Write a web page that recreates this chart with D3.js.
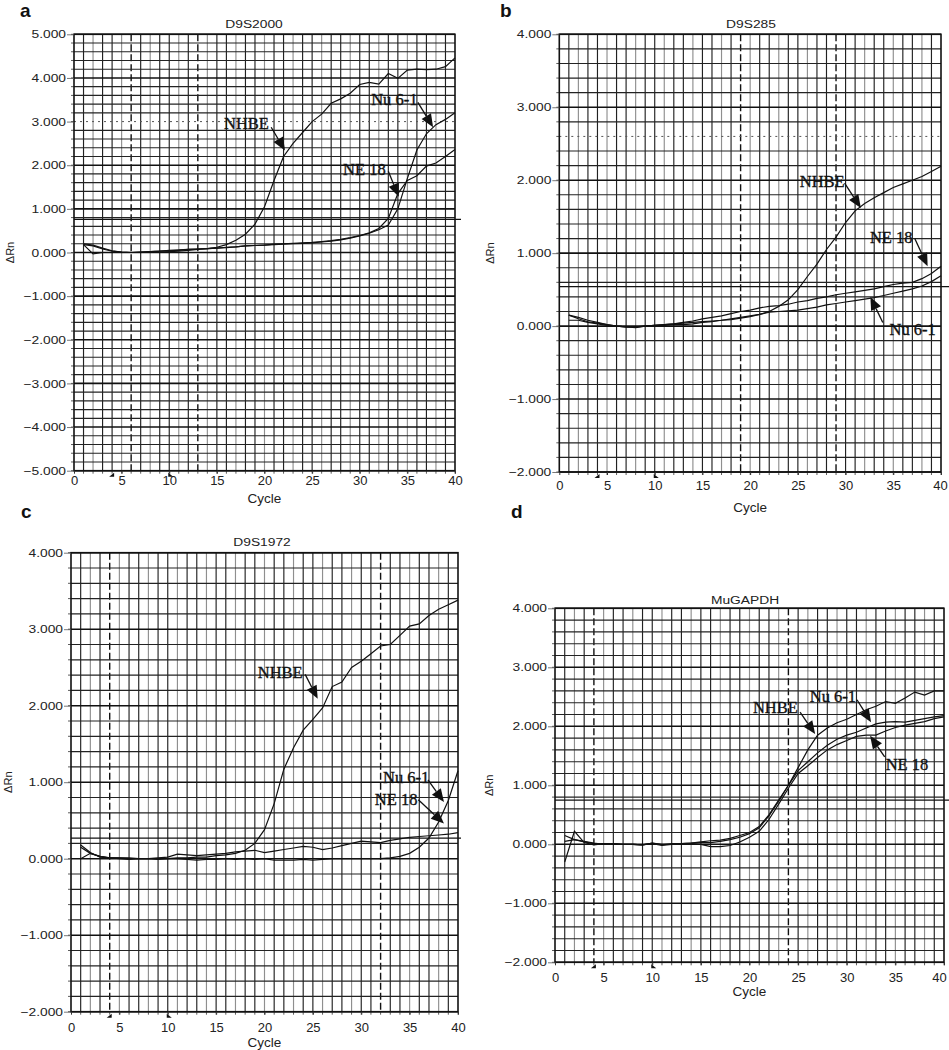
<!DOCTYPE html>
<html><head><meta charset="utf-8">
<script src="https://cdn.jsdelivr.net/npm/d3@7"></script>
<style>html,body{margin:0;padding:0;background:#fff}svg{display:block}</style>
</head><body>
<svg id="chart" width="949" height="1050"></svg>
<script>
// ---------------- DATA ----------------
const cycles = d3.range(1, 41);
const xTickValues = [0, 5, 10, 15, 20, 25, 30, 35, 40];
const titles = ["D9S2000", "D9S285", "D9S1972", "MuGAPDH"];
const panelLetters = ["a", "b", "c", "d"];
const yTicksA = [-5, -4, -3, -2, -1, 0, 1, 2, 3, 4, 5];
const yTicksBCD = [-2, -1, 0, 1, 2, 3, 4];
const thresholds = [0.76, 0.54, 0.27, 0.75];

// Panel a: D9S2000
const d9s2000_NHBE = [0.18,-0.03,0.0,0.0,0.0,0.0,0.0,0.0,0.01,0.02,0.03,0.05,0.07,0.09,0.12,0.18,0.28,0.42,0.65,1.05,1.65,2.2,2.5,2.75,3.0,3.17,3.42,3.52,3.65,3.85,3.9,3.86,4.1,3.99,4.18,4.2,4.19,4.2,4.26,4.46];
const d9s2000_Nu61 = [0.2,0.17,0.1,0.04,0.01,0.0,0.01,0.02,0.03,0.05,0.06,0.07,0.08,0.09,0.1,0.11,0.13,0.15,0.16,0.17,0.18,0.19,0.2,0.21,0.22,0.24,0.26,0.29,0.33,0.38,0.44,0.52,0.63,1.0,1.7,2.35,2.72,2.93,3.05,3.2];
const d9s2000_NE18 = [0.18,0.15,0.08,0.03,0.01,0.0,0.01,0.02,0.03,0.04,0.05,0.07,0.08,0.09,0.1,0.12,0.13,0.15,0.16,0.17,0.19,0.2,0.21,0.22,0.23,0.25,0.27,0.3,0.34,0.39,0.45,0.55,0.78,1.35,1.65,1.76,1.98,2.05,2.2,2.36];

// Panel b: D9S285
const d9s285_NHBE = [0.15,0.1,0.06,0.04,0.02,0.0,-0.01,-0.01,0.0,0.01,0.02,0.03,0.04,0.05,0.06,0.07,0.08,0.1,0.12,0.14,0.16,0.2,0.27,0.36,0.5,0.68,0.85,1.05,1.22,1.42,1.58,1.68,1.76,1.83,1.9,1.95,2.0,2.05,2.12,2.19];
const d9s285_NE18 = [0.15,0.12,0.08,0.05,0.02,0.0,-0.01,-0.02,0.0,0.01,0.02,0.03,0.05,0.07,0.1,0.12,0.14,0.17,0.2,0.22,0.25,0.27,0.28,0.3,0.33,0.35,0.38,0.4,0.43,0.45,0.47,0.49,0.51,0.54,0.57,0.59,0.6,0.65,0.72,0.82];
const d9s285_Nu61 = [0.08,0.08,0.05,0.03,0.01,0.0,-0.01,-0.01,0.0,0.01,0.01,0.02,0.02,0.03,0.05,0.06,0.08,0.09,0.11,0.13,0.16,0.19,0.2,0.21,0.22,0.24,0.26,0.29,0.31,0.33,0.35,0.37,0.39,0.42,0.45,0.48,0.51,0.55,0.61,0.69];

// Panel c: D9S1972
const d9s1972_NHBE = [0.15,0.07,0.03,0.01,0.01,0.0,0.0,0.0,0.0,0.0,0.01,0.01,0.02,0.02,0.04,0.05,0.07,0.11,0.2,0.38,0.72,1.17,1.45,1.68,1.82,1.97,2.25,2.31,2.5,2.58,2.68,2.78,2.8,2.92,3.04,3.07,3.18,3.26,3.32,3.38];
const d9s1972_NE18 = [0.18,0.08,0.02,0.01,0.0,-0.01,0.0,0.0,-0.01,0.0,0.0,-0.01,-0.02,-0.01,-0.01,0.0,-0.01,0.0,-0.01,0.0,-0.02,-0.02,-0.02,-0.01,-0.02,-0.01,0.0,0.0,0.0,0.0,0.0,0.0,0.01,0.03,0.07,0.15,0.27,0.48,0.76,1.15];
const d9s1972_Nu61 = [0.0,0.07,0.03,0.01,0.01,0.01,0.0,0.0,0.01,0.02,0.06,0.05,0.04,0.05,0.06,0.07,0.09,0.1,0.11,0.08,0.1,0.12,0.14,0.16,0.15,0.12,0.14,0.17,0.2,0.23,0.22,0.21,0.24,0.26,0.28,0.29,0.3,0.31,0.32,0.34];

// Panel d: MuGAPDH
const mugapdh_NHBE = [0.15,0.08,0.04,0.01,0.01,0.0,0.0,0.0,-0.01,0.02,0.0,0.0,0.01,0.02,0.04,0.06,0.07,0.1,0.15,0.2,0.3,0.5,0.75,1.0,1.3,1.6,1.85,1.97,2.06,2.12,2.2,2.28,2.34,2.42,2.39,2.48,2.58,2.53,2.6,2.6];
const mugapdh_Nu61 = [-0.3,0.22,0.03,-0.01,0.01,0.01,0.0,0.0,-0.01,0.02,-0.01,0.01,0.01,0.02,0.03,0.03,0.05,0.08,0.12,0.18,0.28,0.48,0.73,1.0,1.25,1.4,1.55,1.68,1.78,1.85,1.9,1.97,2.04,2.07,2.08,2.07,2.1,2.13,2.16,2.18];
const mugapdh_NE18 = [0.05,0.08,0.05,0.02,0.0,0.01,0.0,0.0,-0.01,0.01,-0.02,0.0,0.01,0.01,0.0,-0.04,-0.04,-0.02,0.04,0.12,0.22,0.42,0.68,0.95,1.2,1.33,1.47,1.6,1.69,1.76,1.83,1.85,1.85,1.92,1.98,2.02,2.05,2.08,2.13,2.16];

// Annotations (data units): label, text left-baseline, arrow start, arrow tip
const annotA = [
  {label:"NHBE",  tx:15.75, ty:2.84, fx:20.7, fy:2.87, px:22.15, py:2.34},
  {label:"Nu 6-1",tx:31.2,  ty:3.37, fx:36.1, fy:3.44, px:37.7,  py:2.87},
  {label:"NE 18", tx:28.25, ty:1.77, fx:33.0, fy:1.86, px:34.1,  py:1.28}];
const annotB = [
  {label:"NHBE",  tx:25.2,  ty:1.9,  fx:29.9, fy:1.96, px:31.6,  py:1.62},
  {label:"NE 18", tx:32.55, ty:1.14, fx:37.25,fy:1.2,  px:38.6,  py:0.82},
  {label:"Nu 6-1",tx:34.6,  ty:-0.12,fx:33.9, fy:0.05, px:32.6,  py:0.4}];
const annotC = [
  {label:"NHBE",  tx:19.3,  ty:2.36, fx:24.2, fy:2.41, px:25.5,  py:2.09},
  {label:"Nu 6-1",tx:32.25, ty:0.99, fx:36.9, fy:1.03, px:38.55, py:0.74},
  {label:"NE 18", tx:31.4,  ty:0.7,  fx:35.9, fy:0.77, px:38.55, py:0.46}];
const annotD = [
  {label:"NHBE",  tx:20.35, ty:2.23, fx:25.2, fy:2.24, px:26.75, py:1.87},
  {label:"Nu 6-1",tx:26.2,  ty:2.41, fx:31.05,fy:2.45, px:32.5,  py:2.07},
  {label:"NE 18", tx:34.0,  ty:1.26, fx:33.9, fy:1.48, px:32.4,  py:1.84}];

// ---------------- LAYOUT ----------------
const panels = [
  {title:titles[0], letter:panelLetters[0], series:[d9s2000_NHBE,d9s2000_Nu61,d9s2000_NE18], annot:annotA,
   yTicks:yTicksA, yDom:[-5,5], thr:thresholds[0], l:74, r:455, t:34.3, b:470.7,
   lx:20, ly:17, titleX:254, titleY:27.5, xOff:5.4, cycleY:503, rnX:14, thrEnd:461, emph:[6,13], dotted:[3.0], lastShift:0},
  {title:titles[1], letter:panelLetters[1], series:[d9s285_NHBE,d9s285_NE18,d9s285_Nu61], annot:annotB,
   yTicks:yTicksBCD, yDom:[-2,4], thr:thresholds[1], l:559.3, r:941, t:34.3, b:472,
   lx:500, ly:17, titleX:751, titleY:27.5, xOff:9, cycleY:512, rnX:494, thrEnd:949, emph:[19,29], dotted:[2.6], lastShift:-1},
  {title:titles[2], letter:panelLetters[2], series:[d9s1972_NHBE,d9s1972_NE18,d9s1972_Nu61], annot:annotC,
   yTicks:yTicksBCD, yDom:[-2,4], thr:thresholds[2], l:71, r:458, t:552.7, b:1011.7,
   lx:21, ly:518, titleX:262, titleY:546, xOff:11, cycleY:1047, rnX:12, thrEnd:461, emph:[4,32], dotted:[], lastShift:0},
  {title:titles[3], letter:panelLetters[3], series:[mugapdh_NHBE,mugapdh_Nu61,mugapdh_NE18], annot:annotD,
   yTicks:yTicksBCD, yDom:[-2,4], thr:thresholds[3], l:555, r:944, t:608.3, b:962.3,
   lx:511, ly:518, titleX:745, titleY:603.5, xOff:10.8, cycleY:996, rnX:493, thrEnd:949, emph:[4,24], dotted:[], lastShift:-5}
];

const svg = d3.select("#chart");
const SANS = "'Liberation Sans', Arial, sans-serif";
const SERIF = "'Liberation Serif', 'Times New Roman', serif";
const SX = 1.2; // horizontal stretch of the scanned sans labels

panels.forEach(p => {
  const x = d3.scaleLinear().domain([0, 40]).range([p.l, p.r]);
  const y = d3.scaleLinear().domain(p.yDom).range([p.b, p.t]);
  const g = svg.append("g");

  svg.append("text").attr("x", p.lx).attr("y", p.ly).text(p.letter)
    .attr("font-family", SANS).attr("font-weight", "bold").attr("font-size", 19).attr("fill", "#111");

  svg.append("text").attr("transform", `translate(${p.titleX},${p.titleY}) scale(${SX},1)`)
    .attr("text-anchor", "middle").attr("font-family", SANS).attr("font-size", 11.5).attr("fill", "#222").text(p.title);

  // vertical grid
  const grid = g.append("g");
  cycles.filter(c => c < 40).forEach(c => {
    const emph = p.emph.includes(c);
    grid.append("line").attr("x1", x(c)).attr("x2", x(c)).attr("y1", p.t).attr("y2", p.b)
      .attr("stroke", emph ? "#111" : (c % 3 === 2 ? "#8f8f8f" : "#222"))
      .attr("stroke-width", emph ? 1.4 : 1.15)
      .attr("stroke-dasharray", emph ? "7,3" : null);
  });
  // horizontal grid every 0.2
  const hVals = d3.range(Math.round((p.yDom[1] - p.yDom[0]) / 0.2) + 1).map(i => +(p.yDom[0] + i * 0.2).toFixed(2));
  hVals.forEach(v => {
    const isInt = Math.abs(v - Math.round(v)) < 1e-6;
    const dotted = p.dotted.some(d => Math.abs(d - v) < 1e-6);
    grid.append("line").attr("x1", p.l).attr("x2", p.r).attr("y1", y(v)).attr("y2", y(v))
      .attr("stroke", dotted ? "#555" : (isInt ? "#111" : "#222"))
      .attr("stroke-width", dotted ? 1 : (isInt ? 1.6 : 1.15))
      .attr("stroke-dasharray", dotted ? "2,4" : null);
    grid.append("line").attr("x1", p.l - 3).attr("x2", p.l).attr("y1", y(v)).attr("y2", y(v))
      .attr("stroke", "#333").attr("stroke-width", 0.8);
  });
  cycles.forEach(c => {
    grid.append("line").attr("x1", x(c)).attr("x2", x(c)).attr("y1", p.b).attr("y2", p.b + 3)
      .attr("stroke", "#333").attr("stroke-width", 0.8);
  });

  // threshold line
  g.append("line").attr("x1", p.l).attr("x2", p.thrEnd).attr("y1", y(p.thr)).attr("y2", y(p.thr))
    .attr("stroke", "#111").attr("stroke-width", 1.3);

  // frame
  g.append("rect").attr("x", p.l).attr("y", p.t).attr("width", p.r - p.l).attr("height", p.b - p.t)
    .attr("fill", "none").attr("stroke", "#111").attr("stroke-width", 1.6);

  // axes
  const yAxis = g.append("g").attr("transform", `translate(${p.l},0)`)
    .call(d3.axisLeft(y).tickValues(p.yTicks).tickSize(7).tickPadding(1).tickFormat(d3.format(".3f")));
  yAxis.select(".domain").remove();
  yAxis.selectAll("line").attr("stroke", "#555").attr("stroke-width", 0.8);
  yAxis.selectAll("text").attr("font-family", SANS).attr("font-size", 11.5).attr("fill", "#222")
    .attr("x", -8 / SX).attr("transform", `scale(${SX},1)`);

  const xAxis = g.append("g").attr("transform", `translate(0,${p.b})`)
    .call(d3.axisBottom(x).tickValues(xTickValues).tickSize(3).tickPadding(p.xOff - 3));
  xAxis.select(".domain").remove();
  xAxis.selectAll("line").attr("stroke", "#333");
  xAxis.selectAll("text").attr("font-family", SANS).attr("font-size", 13).attr("fill", "#222")
    .filter(d => d === 40).attr("dx", p.lastShift);

  // baseline markers under axis
  [4, 10].forEach((c, i) => {
    const cx = x(c), cy = p.b + 1;
    const path = i === 0 ? `M${cx-3},${cy+5}L${cx+2},${cy+1}L${cx+2},${cy+5}Z` : `M${cx-1},${cy+1}L${cx+4},${cy+5}L${cx-1},${cy+5}Z`;
    g.append("path").attr("d", path).attr("fill", "#111");
  });

  svg.append("text").attr("x", (p.l + p.r) / 2).attr("y", p.cycleY).attr("text-anchor", "middle")
    .attr("font-family", SANS).attr("font-size", 13.5).attr("fill", "#222").text("Cycle");
  svg.append("text").attr("transform", `translate(${p.rnX},${(p.t + p.b) / 2}) rotate(-90)`)
    .attr("text-anchor", "middle").attr("font-family", SANS).attr("font-size", 11).attr("fill", "#222").text("ΔRn");

  // curves
  const line = d3.line().x((d, i) => x(cycles[i])).y(d => y(d));
  p.series.forEach(s => {
    g.append("path").datum(s).attr("d", line).attr("fill", "none").attr("stroke", "#111").attr("stroke-width", 1.2);
  });

  // annotations
  p.annot.forEach(a => {
    svg.append("text").attr("x", x(a.tx)).attr("y", y(a.ty)).text(a.label)
      .attr("font-family", SERIF).attr("font-size", 16.5).attr("fill", "#111")
      .attr("stroke", "#111").attr("stroke-width", 0.35);
    const x1 = x(a.fx), y1 = y(a.fy), x2 = x(a.px), y2 = y(a.py);
    const ang = Math.atan2(y2 - y1, x2 - x1);
    const L = 13, Wd = 5.5;
    const bx = x2 - L * Math.cos(ang), by = y2 - L * Math.sin(ang);
    svg.append("line").attr("x1", x1).attr("y1", y1).attr("x2", bx).attr("y2", by)
      .attr("stroke", "#111").attr("stroke-width", 1.3);
    const nx = -Math.sin(ang), ny = Math.cos(ang);
    svg.append("path")
      .attr("d", `M${x2},${y2}L${bx + nx * Wd},${by + ny * Wd}L${bx - nx * Wd},${by - ny * Wd}Z`)
      .attr("fill", "#111");
  });
});
</script>
</body></html>
